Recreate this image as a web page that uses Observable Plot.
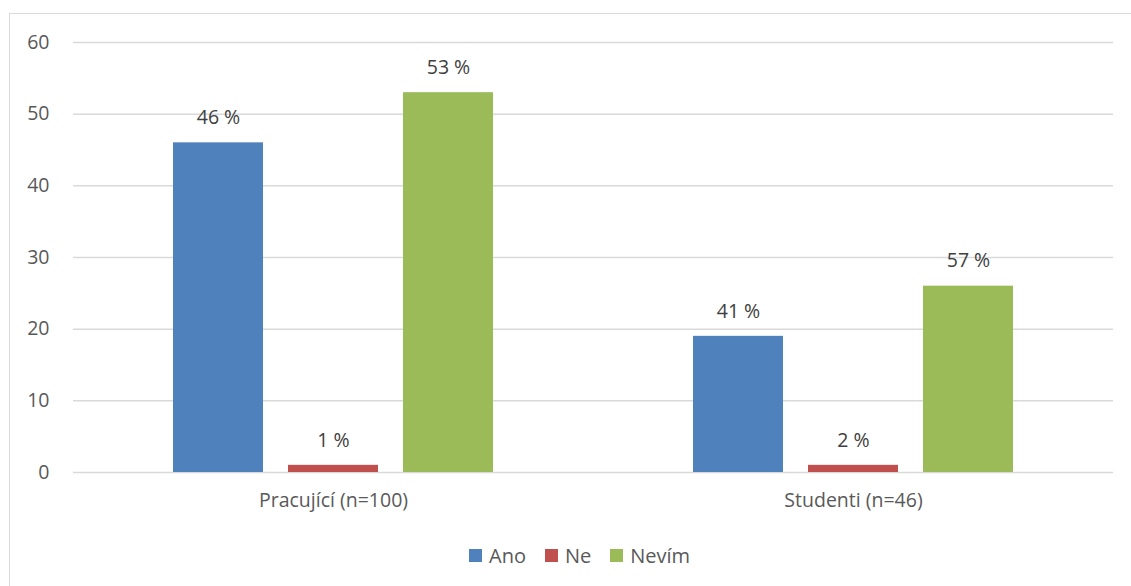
<!DOCTYPE html>
<html>
<head>
<meta charset="utf-8">
<script src="https://cdn.jsdelivr.net/npm/d3@7"></script>
<script src="https://cdn.jsdelivr.net/npm/@observablehq/plot@0.6"></script>
<style>
  body { margin: 0; background: #fff; font-family: "Open Sans", Lato, sans-serif; }
  #wrap { position: relative; width: 1131px; height: 586px; overflow: hidden; }
  #frame { position: absolute; left: 9px; top: 13px; width: 1140px; height: 600px; border: 1px solid #d9d9d9; box-sizing: border-box; }
  #chart { position: absolute; left: 0; top: 0; }
  #legend { position: absolute; left: 469px; top: 542px; display: flex; align-items: center; font-size: 20px; color: #595959; }
  #legend .item { display: flex; align-items: center; margin-right: 19px; }
  #legend .sw { width: 13px; height: 13px; margin-right: 7px; }
</style>
</head>
<body>
<div id="wrap">
  <div id="frame"></div>
  <div id="chart"></div>
  <div id="legend"></div>
</div>
<script>
// Respondent groups and their sizes
const groups = ["Pracující (n=100)", "Studenti (n=46)"];
const groupSizes = [100, 46];

// Answer categories and their colours
const answers = ["Ano", "Ne", "Nevím"];
const answerColors = ["#4F81BD", "#C0504D", "#9BBB59"];

// Number of respondents per answer, in group order
const anoCounts = [46, 19];
const neCounts = [1, 1];
const nevimCounts = [53, 26];

// Y axis ticks
const yTicks = [0, 10, 20, 30, 40, 50, 60];

const countsByAnswer = [anoCounts, neCounts, nevimCounts];
const rows = [];
groups.forEach((g, gi) => {
  answers.forEach((a, ai) => {
    const count = countsByAnswer[ai][gi];
    rows.push({
      group: g,
      answer: a,
      count,
      label: Math.round(count / groupSizes[gi] * 100) + " %"
    });
  });
});

const chart = Plot.plot({
  width: 1131,
  height: 530,
  marginLeft: 73,
  marginRight: 18,
  marginTop: 42,
  marginBottom: 58,
  style: { fontFamily: "'Open Sans', Lato, sans-serif", fontSize: "19.5px", color: "#595959", background: "transparent" },
  fx: { domain: groups, padding: 0, label: null, axis: "bottom", tickSize: 0, tickPadding: 21 },
  x: { domain: answers, paddingInner: 0.217, paddingOuter: 0.869, axis: null },
  y: { domain: [0, 60], ticks: yTicks, label: null, tickSize: 0, tickPadding: 24 },
  color: { domain: answers, range: answerColors },
  marks: [
    Plot.gridY(yTicks, { stroke: "#d9d9d9", strokeOpacity: 1, strokeWidth: 1.5 }),
    Plot.barY(rows, { fx: "group", x: "answer", y: "count", fill: "answer" }),
    Plot.text(rows, { fx: "group", x: "answer", y: "count", text: "label", dy: -25, fill: "#404040", fontSize: 19.5 })
  ]
});
document.getElementById("chart").append(chart);

// Legend below the plot
const legend = document.getElementById("legend");
answers.forEach((a, i) => {
  const item = document.createElement("div");
  item.className = "item";
  const sw = document.createElement("span");
  sw.className = "sw";
  sw.style.background = answerColors[i];
  const t = document.createElement("span");
  t.textContent = a;
  item.append(sw, t);
  legend.append(item);
});
</script>
</body>
</html>
